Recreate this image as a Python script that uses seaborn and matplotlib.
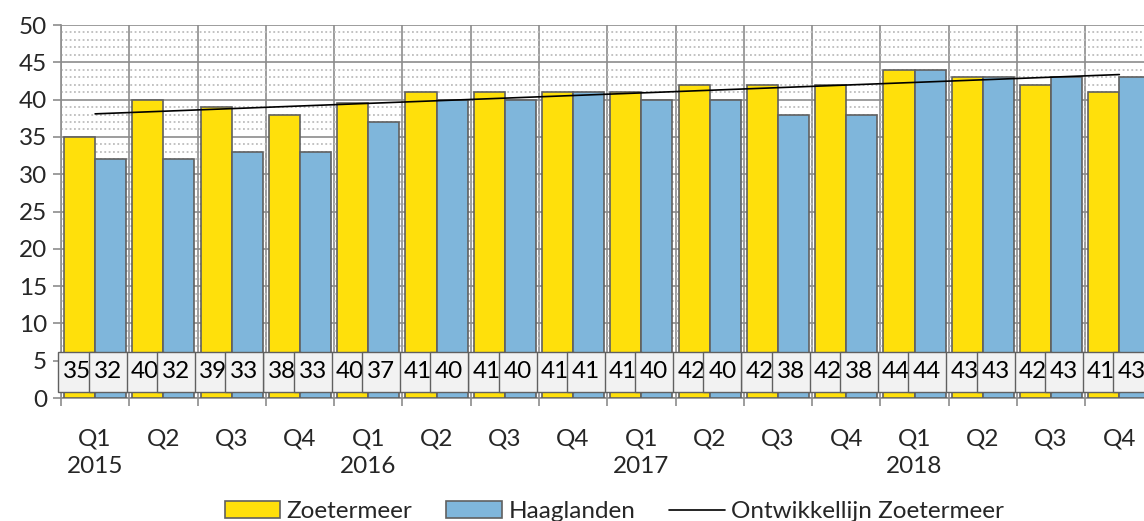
import numpy as np
import pandas as pd
import matplotlib
matplotlib.use("Agg")
import matplotlib.pyplot as plt
from matplotlib.patches import Patch
from matplotlib.lines import Line2D
from matplotlib.path import Path
from matplotlib.ticker import MultipleLocator
import seaborn as sns

# ---- data ----
quarters = ["Q1", "Q2", "Q3", "Q4"] * 4
years = ["2015", "", "", "", "2016", "", "", "", "2017", "", "", "", "2018", "", "", ""]
zoetermeer = [35, 40, 39, 38, 39.6, 41, 41, 41, 41, 42, 42, 42, 44, 43, 42, 41]
haaglanden = [32, 32, 33, 33, 37, 40, 40, 41, 40, 40, 38, 38, 44, 43, 43, 43]
series_names = ["Zoetermeer", "Haaglanden"]
trend_name = "Ontwikkellijn Zoetermeer"
yticks = [0, 5, 10, 15, 20, 25, 30, 35, 40, 45, 50]

# ---- style ----
sns.set_theme(style="white")
plt.rcParams["font.family"] = ["Lato", "DejaVu Sans"]
YELLOW = "#FFE00B"
BLUE = "#7FB6DB"
EDGE = "#606060"
GRID = "#8C8C8C"
MINOR = "#BDBDBD"
FS = 17.5


def tall_box(x0, y0, width, height, mutation_size):
    """Rectangle box with small horizontal and larger vertical padding."""
    px = 0.2 * mutation_size
    py = 0.39 * mutation_size
    x0, x1 = x0 - px, x0 + width + px
    y0, y1 = y0 - py, y0 + height + py
    return Path([(x0, y0), (x1, y0), (x1, y1), (x0, y1), (x0, y0)], closed=True)


idx = list(range(len(quarters)))
df = pd.DataFrame({
    "idx": idx * 2,
    "value": zoetermeer + haaglanden,
    "series": [series_names[0]] * len(idx) + [series_names[1]] * len(idx),
})

fig = plt.figure(figsize=(11.44, 5.21), dpi=100)
ax = fig.add_axes([0.0533, 0.236, 0.955, 0.716])

sns.barplot(data=df, x="idx", y="value", hue="series", order=idx,
            hue_order=series_names, palette=[YELLOW, BLUE], width=0.91,
            edgecolor=EDGE, linewidth=1.2, saturation=1, legend=False,
            errorbar=None, ax=ax, zorder=3)

sns.regplot(x=np.array(idx, dtype=float), y=np.array(zoetermeer), scatter=False,
            ci=None, truncate=True, color="black",
            line_kws={"linewidth": 1.2, "zorder": 5}, ax=ax)

# value label boxes
for p in ax.patches:
    h = p.get_height()
    if np.isnan(h):
        continue
    ax.annotate(f"{h:.0f}", xy=(p.get_x() + p.get_width() / 2, 3.5),
                xytext=(-2, 0), textcoords="offset points",
                ha="center", va="center", fontsize=FS, color="black", zorder=6,
                bbox=dict(boxstyle=tall_box, facecolor="#F2F2F2",
                          edgecolor=EDGE, linewidth=1.0))

ax.set_xlim(-0.5, len(idx) - 0.5)
ax.set_ylim(0, 50)
ax.set_xlabel("")
ax.set_ylabel("")

# y axis
ax.yaxis.set_minor_locator(MultipleLocator(1))
ax.set_yticks(yticks)
ax.set_yticklabels([str(t) for t in yticks], fontsize=FS)
ax.tick_params(axis="y", which="major", length=6, width=1.2, color=GRID, pad=4, left=True)
ax.tick_params(axis="y", which="minor", length=0)
ax.grid(axis="y", which="major", color=GRID, linewidth=1.2, zorder=0)
ax.grid(axis="y", which="minor", color=MINOR, linewidth=1.3, linestyle=(0, (1, 1.4)), zorder=0)

# x axis: labels at centers, ticks/grid at boundaries
ax.set_xticks(idx)
ax.set_xticklabels([q + ("\n" + y if y else "") for q, y in zip(quarters, years)],
                   fontsize=FS, linespacing=1.4, va="top")
ax.set_xticks([i - 0.5 for i in idx] + [len(idx) - 0.5], minor=True)
ax.tick_params(axis="x", which="major", length=0, pad=22)
ax.tick_params(axis="x", which="minor", length=6, width=1.2, color=GRID, bottom=True)
ax.grid(axis="x", which="minor", color=GRID, linewidth=1.2, zorder=0)
ax.grid(axis="x", which="major", visible=False)
ax.set_axisbelow(True)

for s in ["top", "right"]:
    ax.spines[s].set_visible(False)
for s in ["left", "bottom"]:
    ax.spines[s].set_color(GRID)
    ax.spines[s].set_linewidth(1.2)

handles = [Patch(facecolor=YELLOW, edgecolor=EDGE, linewidth=1.2),
           Patch(facecolor=BLUE, edgecolor=EDGE, linewidth=1.2),
           Line2D([0], [0], color="black", linewidth=1.2)]
fig.legend(handles, series_names + [trend_name], loc="center",
           bbox_to_anchor=(0.537, 0.018), ncol=3, frameon=False, fontsize=FS,
           handlelength=2.3, handletextpad=0.25, columnspacing=1.4)

fig.savefig("out.png", dpi=100)
